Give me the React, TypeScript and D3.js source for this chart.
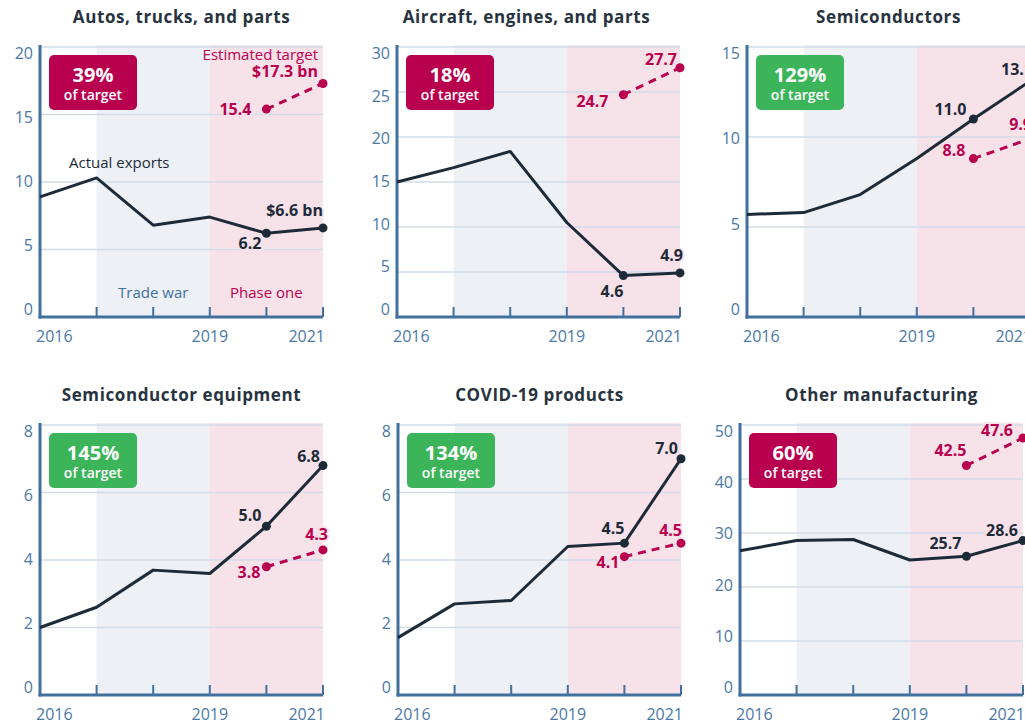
import React from "react";
import * as d3 from "d3";

// ---------- DATA ----------
const YEARS = [2016, 2017, 2018, 2019, 2020, 2021];
const TARGET_YEARS = [2020, 2021];
const X_LABELS = [2016, 2019, 2021];

const TITLES = [
  "Autos, trucks, and parts",
  "Aircraft, engines, and parts",
  "Semiconductors",
  "Semiconductor equipment",
  "COVID-19 products",
  "Other manufacturing",
];

const AUTOS = [8.9, 10.3, 6.8, 7.4, 6.2, 6.6];
const AIRCRAFT = [15.0, 16.6, 18.4, 10.5, 4.6, 4.9];
const SEMIS = [5.7, 5.8, 6.8, 8.8, 11.0, 13.1];
const SEMI_EQUIP = [2.0, 2.6, 3.7, 3.6, 5.0, 6.8];
const COVID = [1.7, 2.7, 2.8, 4.4, 4.5, 7.0];
const OTHER = [26.7, 28.6, 28.8, 25.0, 25.7, 28.6];

const T_AUTOS = [15.4, 17.3];
const T_AIRCRAFT = [24.7, 27.7];
const T_SEMIS = [8.8, 9.9];
const T_SEMI_EQUIP = [3.8, 4.3];
const T_COVID = [4.1, 4.5];
const T_OTHER = [42.5, 47.6];

const PCT_OF_TARGET = [39, 18, 129, 145, 134, 60];

const TICKS_20 = [0, 5, 10, 15, 20];
const TICKS_30 = [0, 5, 10, 15, 20, 25, 30];
const TICKS_15 = [0, 5, 10, 15];
const TICKS_8 = [0, 2, 4, 6, 8];
const TICKS_50 = [0, 10, 20, 30, 40, 50];

const ACTUALS = [AUTOS, AIRCRAFT, SEMIS, SEMI_EQUIP, COVID, OTHER];
const TARGETS = [T_AUTOS, T_AIRCRAFT, T_SEMIS, T_SEMI_EQUIP, T_COVID, T_OTHER];
const TICKS = [TICKS_20, TICKS_30, TICKS_15, TICKS_8, TICKS_8, TICKS_50];

// ---------- LAYOUT / STYLE ----------
const W = 1025;
const H = 724;
const PW = 283;
const PH = 270;
const PANELS = [
  { x: 40, y: 47, titleDx: 0 },
  { x: 397, y: 47, titleDx: -12 },
  { x: 747, y: 47, titleDx: 0 },
  { x: 40, y: 425, titleDx: 0 },
  { x: 398, y: 425, titleDx: 0 },
  { x: 740, y: 425, titleDx: 0 },
];
// label offsets [dx, dy] (end-anchored): actual 2020, actual 2021, target 2020, target 2021
const LABEL_OFFSETS = [
  [[-5, 16], [0, -12], [-15, 6], [-5, -6]],
  [[0, 21], [3, -12], [-15, 12], [-3, -3]],
  [[-7, -4], [3, -6], [-8, -3], [2, -9]],
  [[-5, -5], [-3, -4], [-6, 11], [5, -10]],
  [[0, -9], [-3, -5], [-5, 11], [1, -7]],
  [[-5, -7], [-5, -5], [0, -10], [-10, -2]],
];

const FONT = "'Open Sans', 'Noto Sans', sans-serif";
const C_DARK = "#1d2b39";
const C_TITLE = "#27333f";
const C_MAG = "#b8004e";
const C_GREEN = "#3bb45a";
const C_AXIS = "#41709f";
const C_TICK = "#4a78a8";
const C_GRID = "#d2dce7";
const C_TRADE = "#edf0f5";
const C_PHASE = "#f8e2ea";

function Panel({ i }: { i: number }) {
  const p = PANELS[i];
  const actual = ACTUALS[i];
  const target = TARGETS[i];
  const ticks = TICKS[i];
  const yMax = ticks[ticks.length - 1];
  const x = d3.scaleLinear().domain([2016, 2021]).range([p.x, p.x + PW]);
  const y = d3.scaleLinear().domain([0, yMax]).range([p.y + PH, p.y]);
  const yLab = d3.scaleLinear().domain([0, yMax]).range([p.y + PH - 8, p.y + 6]);
  const line = d3
    .line<number>()
    .x((_, k) => x(YEARS[k]))
    .y((d) => y(d));
  const tline = d3
    .line<number>()
    .x((_, k) => x(TARGET_YEARS[k]))
    .y((d) => y(d));
  const bottom = p.y + PH;
  const top = p.y - 2;
  const pct = PCT_OF_TARGET[i];
  const good = pct >= 100;
  const offs = LABEL_OFFSETS[i];
  const first = i === 0;
  const a20 = actual[4];
  const a21 = actual[5];
  const fmt = d3.format(".1f");
  const halo = {
    paintOrder: "stroke" as const,
    stroke: C_PHASE,
    strokeWidth: 4,
    strokeLinejoin: "round" as const,
  };
  return (
    <g>
      <text
        x={p.x + PW / 2 + p.titleDx}
        y={p.y - 24}
        textAnchor="middle"
        fontFamily={FONT}
        fontWeight={700}
        fontSize={17}
        letterSpacing={0.6}
        fill={C_TITLE}
      >
        {TITLES[i]}
      </text>
      {/* shaded periods */}
      <rect x={x(2017)} y={top} width={x(2019) - x(2017)} height={bottom - top} fill={C_TRADE} />
      <rect x={x(2019)} y={top} width={x(2021) - x(2019)} height={bottom - top} fill={C_PHASE} />
      {/* grid */}
      {ticks
        .filter((t) => t > 0)
        .map((t) => (
          <line key={t} x1={p.x} x2={p.x + PW} y1={y(t)} y2={y(t)} stroke={C_GRID} strokeWidth={1.5} />
        ))}
      {/* y tick labels */}
      {ticks.map((t) => (
        <text
          key={"l" + t}
          x={p.x - 7}
          y={yLab(t)}
          textAnchor="end"
          dominantBaseline="central"
          fontFamily={FONT}
          fontSize={16}
          fill={C_TICK}
        >
          {t}
        </text>
      ))}
      {/* x ticks */}
      {YEARS.slice(1).map((yr) => (
        <line key={yr} x1={x(yr)} x2={x(yr)} y1={bottom} y2={bottom - 10} stroke={C_AXIS} strokeWidth={2} />
      ))}
      {X_LABELS.map((yr, k) => (
        <text
          key={"x" + yr}
          x={k === 0 ? x(yr) - 4 : k === X_LABELS.length - 1 ? x(yr) + 2 : x(yr)}
          y={bottom + 25}
          textAnchor={k === 0 ? "start" : k === X_LABELS.length - 1 ? "end" : "middle"}
          fontFamily={FONT}
          fontSize={16}
          fill={C_TICK}
        >
          {yr}
        </text>
      ))}
      {/* axes */}
      <line x1={p.x} x2={p.x} y1={top} y2={bottom + 1.5} stroke={C_AXIS} strokeWidth={3} />
      <line x1={p.x - 1.5} x2={p.x + PW} y1={bottom} y2={bottom} stroke={C_AXIS} strokeWidth={3} />
      {/* target */}
      <path d={tline(target) || ""} fill="none" stroke={C_MAG} strokeWidth={3} strokeDasharray="8 6" />
      {target.map((v, k) => (
        <circle key={"t" + k} cx={x(TARGET_YEARS[k])} cy={y(v)} r={4.5} fill={C_MAG} />
      ))}
      {/* actual */}
      <path d={line(actual) || ""} fill="none" stroke={C_DARK} strokeWidth={3} strokeLinejoin="round" />
      {[4, 5].map((k) => (
        <circle key={"a" + k} cx={x(YEARS[k])} cy={y(actual[k])} r={4.5} fill={C_DARK} />
      ))}
      {/* value labels */}
      <g fontFamily={FONT} fontWeight={700} fontSize={16} textAnchor="end">
        <text x={x(2020) + offs[0][0]} y={y(a20) + offs[0][1]} fill={C_DARK} style={halo}>
          {fmt(a20)}
        </text>
        <text x={x(2021) + offs[1][0]} y={y(a21) + offs[1][1]} fill={C_DARK} style={halo}>
          {first ? `$${fmt(a21)} bn` : fmt(a21)}
        </text>
        <text x={x(2020) + offs[2][0]} y={y(target[0]) + offs[2][1]} fill={C_MAG} style={halo}>
          {fmt(target[0])}
        </text>
        <text x={x(2021) + offs[3][0]} y={y(target[1]) + offs[3][1]} fill={C_MAG} style={halo}>
          {first ? `$${fmt(target[1])} bn` : fmt(target[1])}
        </text>
      </g>
      {first && (
        <g fontFamily={FONT} fontSize={15}>
          <text x={x(2021) - 5} y={y(target[1]) - 23} textAnchor="end" fill={C_MAG}>
            Estimated target
          </text>
          <text x={x(2017.4)} y={y(10.3) - 10} textAnchor="middle" fill={C_DARK}>
            Actual exports
          </text>
          <text x={(x(2017) + x(2019)) / 2} y={bottom - 19} textAnchor="middle" fill={C_AXIS}>
            Trade war
          </text>
          <text x={(x(2019) + x(2021)) / 2} y={bottom - 19} textAnchor="middle" fill={C_MAG}>
            Phase one
          </text>
        </g>
      )}
      {/* badge */}
      <g>
        <rect x={p.x + 9} y={p.y + 8} width={88} height={55} rx={5} fill={good ? C_GREEN : C_MAG} />
        <text
          x={p.x + 9 + 44}
          y={p.y + 8 + 27}
          textAnchor="middle"
          fontFamily={FONT}
          fontWeight={700}
          fontSize={20}
          fill="#fff"
        >
          {pct}%
        </text>
        <text
          x={p.x + 9 + 44}
          y={p.y + 8 + 45}
          textAnchor="middle"
          fontFamily={FONT}
          fontWeight={600}
          fontSize={14}
          fill="#fff"
        >
          of target
        </text>
      </g>
    </g>
  );
}

export default function App() {
  return (
    <svg
      width={W}
      height={H}
      viewBox={`0 0 ${W} ${H}`}
      style={{ position: "absolute", left: 0, top: 0, background: "#fff" }}
    >
      <rect width={W} height={H} fill="#fff" />
      {PANELS.map((_, i) => (
        <Panel key={i} i={i} />
      ))}
    </svg>
  );
}
